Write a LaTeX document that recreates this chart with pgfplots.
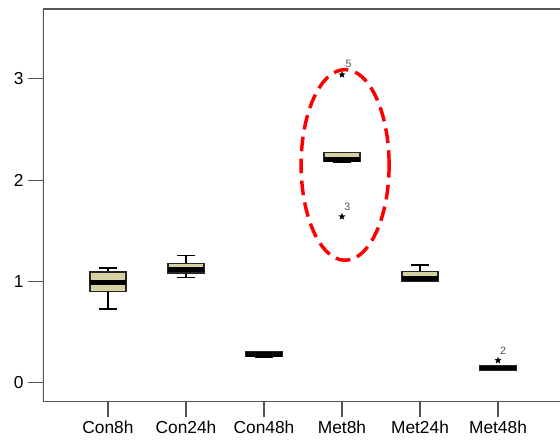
\documentclass[border=0pt]{standalone}
\usepackage{pgfplots}
\pgfplotsset{compat=1.18}
\usepgfplotslibrary{statistics}
\usepackage{fontspec}
\setmainfont{Liberation Sans}
\definecolor{boxfill}{RGB}{214,208,162}
\definecolor{axgray}{RGB}{85,85,85}
% filled five-point star for outliers
\pgfdeclareplotmark{fstar}{%
  \pgfpathmoveto{\pgfpointpolar{90}{\pgfplotmarksize}}%
  \pgfpathlineto{\pgfpointpolar{126}{0.42*\pgfplotmarksize}}%
  \pgfpathlineto{\pgfpointpolar{162}{\pgfplotmarksize}}%
  \pgfpathlineto{\pgfpointpolar{198}{0.42*\pgfplotmarksize}}%
  \pgfpathlineto{\pgfpointpolar{234}{\pgfplotmarksize}}%
  \pgfpathlineto{\pgfpointpolar{270}{0.42*\pgfplotmarksize}}%
  \pgfpathlineto{\pgfpointpolar{306}{\pgfplotmarksize}}%
  \pgfpathlineto{\pgfpointpolar{342}{0.42*\pgfplotmarksize}}%
  \pgfpathlineto{\pgfpointpolar{18}{\pgfplotmarksize}}%
  \pgfpathlineto{\pgfpointpolar{54}{0.42*\pgfplotmarksize}}%
  \pgfpathclose\pgfusepathqfill}
\begin{document}
\begin{tikzpicture}
\begin{axis}[
  at={(0,0)},anchor=south west,
  scale only axis,width=387.75pt,height=294.75pt,
  xmin=-0.833,xmax=5.795,ymin=-0.19,ymax=3.689,
  xtick={0,1,2,3,4,5},
  xticklabels={Con8h,Con24h,Con48h,Met8h,Met24h,Met48h},
  ytick={0,1,2,3},
  xtick pos=left,ytick pos=left,
  tick align=outside,major tick length=11pt,
  tick style={axgray,line width=0.9pt},
  axis line style={draw=none},
  /pgf/number format/assume math mode=true,
  tick label style={font=\fontsize{13}{15}\selectfont},
  boxplot/draw direction=y,
  boxplot/every box/.style={fill=boxfill,draw=black!85,line width=0.9pt},
  boxplot/every median/.style={black,line width=3.6pt},
  boxplot/every whisker/.style={black,line width=1.2pt},
  boxplot/box extend=0.46,boxplot/whisker extend=0.23,
]
\draw[axgray,line width=1.3pt] (rel axis cs:0,1) -- (rel axis cs:0,0) -- (rel axis cs:1,0);
\draw[axgray,line width=1.3pt] (rel axis cs:0,1) -- (rel axis cs:1,1);
\addplot[black,mark=fstar,mark size=2.8pt,boxplot prepared={draw position=0,
  lower whisker=0.727,lower quartile=0.90,median=0.99,upper quartile=1.093,upper whisker=1.135}]
  coordinates {};
\addplot[black,mark=fstar,mark size=2.8pt,boxplot prepared={draw position=1,
  lower whisker=1.037,lower quartile=1.083,median=1.115,upper quartile=1.18,upper whisker=1.257}]
  coordinates {};
\addplot[black,mark=fstar,mark size=2.8pt,boxplot prepared={draw position=2,
  lower whisker=0.255,lower quartile=0.258,median=0.28,upper quartile=0.305,upper whisker=0.31}]
  coordinates {};
\addplot[black,mark=fstar,mark size=2.8pt,boxplot prepared={draw position=3,
  lower whisker=2.18,lower quartile=2.18,median=2.20,upper quartile=2.273,upper whisker=2.273}]
  coordinates {(3,3.04) (3,1.64)};
\addplot[black,mark=fstar,mark size=2.8pt,boxplot prepared={draw position=4,
  lower whisker=1.0,lower quartile=1.0,median=1.027,upper quartile=1.096,upper whisker=1.165}]
  coordinates {};
\addplot[black,mark=fstar,mark size=2.8pt,boxplot prepared={draw position=5,
  lower whisker=0.125,lower quartile=0.125,median=0.145,upper quartile=0.165,upper whisker=0.165}]
  coordinates {(5,0.22)};
\node[font=\fontsize{8}{9}\selectfont,text=axgray,inner sep=0pt] at (axis cs:3.085,3.15) {5};
\node[font=\fontsize{8}{9}\selectfont,text=axgray,inner sep=0pt] at (axis cs:3.07,1.74) {3};
\node[font=\fontsize{8}{9}\selectfont,text=axgray,inner sep=0pt] at (axis cs:5.065,0.315) {2};
\draw[red,line width=2.6pt,dash pattern=on 11pt off 5.5pt] (axis cs:3.04,2.15) ellipse [x radius=33pt,y radius=71.5pt];
\end{axis}
\pgfresetboundingbox
\path (-32.25pt,-29.25pt) rectangle (387.75pt,301.5pt);
\end{tikzpicture}
\end{document}
